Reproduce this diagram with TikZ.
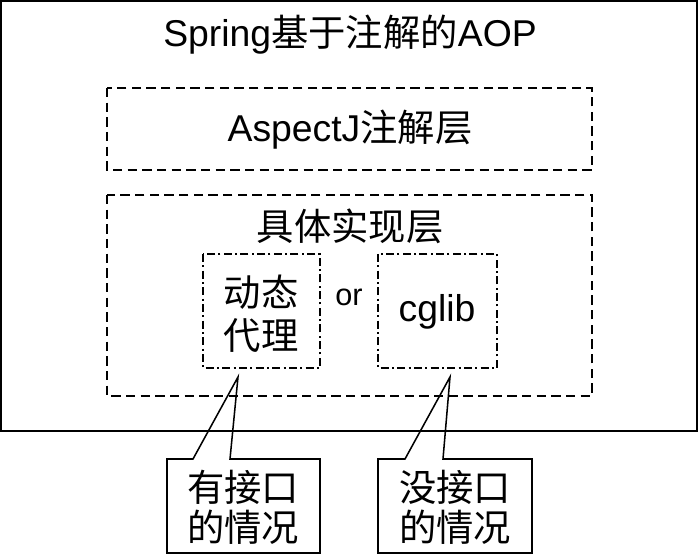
\documentclass[tikz,border=0pt]{standalone}
\usepackage{fontspec}
\setmainfont{Liberation Sans}
\newfontfamily\cjk{Noto Sans CJK SC}
\begin{document}
\begin{tikzpicture}[x=0.75pt,y=-0.75pt, line width=1.15pt,
  dashbox/.style={draw, dash pattern=on 7pt off 4pt},
  dotbox/.style={draw, dash pattern=on 6pt off 2.5pt on 1.5pt off 2.5pt},
  lbl/.style={font=\fontsize{28}{32.5}\selectfont, align=center, inner sep=0pt},
  clbl/.style={font=\fontsize{28}{30}\selectfont, align=center, inner sep=0pt}]
\useasboundingbox (0,0) rectangle (700,556);
% outer box
\draw (1,1) rectangle (697,431);
\node[lbl] (title) at (350,35) {Spring{\cjk 基于注解的}AOP};
% AspectJ layer
\draw[dashbox] (107,88) rectangle (592,170);
\node[lbl] (aspect) at (350,130) {AspectJ{\cjk 注解层}};
% implementation layer
\draw[dashbox] (107,195) rectangle (592,396);
\node[lbl] (impl) at (350,226) {\cjk 具体实现层};
\draw[dotbox] (203,254) rectangle (320,368);
\node[lbl] (dyn) at (261,314) {\cjk 动态\\\cjk 代理};
\node[lbl, font=\fontsize{23}{27}\selectfont] (or) at (349,297) {or};
\draw[dotbox] (378,254) rectangle (497,368);
\node[lbl] (cglib) at (437,312) {cglib};
% callouts
\coordinate (tip1) at (238,377);
\coordinate (tip2) at (450,377);
\draw (193,459) -- (tip1) -- (230,459) -- (320,459) -- (320,553) -- (167,553) -- (167,459) -- cycle;
\node[clbl] (c1) at (243,507) {\cjk 有接口\\\cjk 的情况};
\draw (405,459) -- (tip2) -- (443,459) -- (532,459) -- (532,553) -- (378,553) -- (378,459) -- cycle;
\node[clbl] (c2) at (455,507) {\cjk 没接口\\\cjk 的情况};
\end{tikzpicture}
\end{document}
